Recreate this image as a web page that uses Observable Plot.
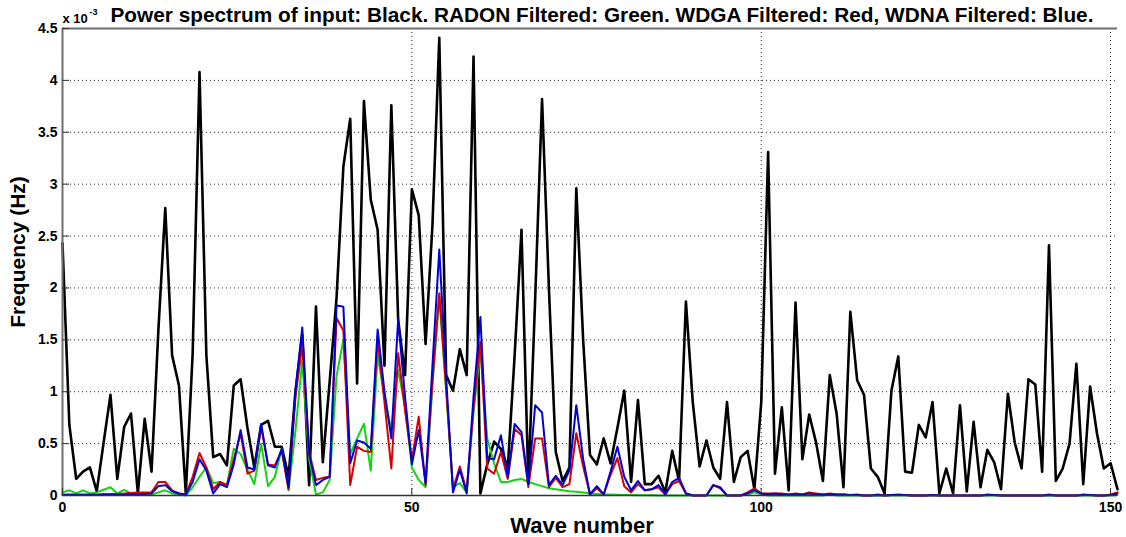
<!DOCTYPE html>
<html>
<head>
<meta charset="utf-8">
<script src="https://cdn.jsdelivr.net/npm/d3@7"></script>
<script src="https://cdn.jsdelivr.net/npm/@observablehq/plot@0.6"></script>
<style>
  html, body { margin: 0; padding: 0; background: #fff; }
  #chart svg { display: block; }
</style>
</head>
<body>
<div id="chart"></div>
<script>
// Wave-number grid: 155 samples spanning 0..151
const waveMax = 151;
const sampleCount = 155;

// Power spectra (x 10^-3), one value per sample
const inputBlack = [
  2.43,0.68,0.16,0.23,0.27,0.04,0.51,0.97,0.16,0.66,
  0.79,0.02,0.74,0.23,1.60,2.77,1.35,1.06,0.02,1.37,
  4.08,1.35,0.37,0.40,0.29,1.06,1.12,0.65,0.27,0.68,
  0.72,0.47,0.47,0.18,1.00,1.55,0.10,1.82,0.32,1.10,
  1.90,3.17,3.63,1.08,3.80,2.85,2.56,1.25,3.76,1.69,
  1.16,2.95,2.70,1.46,2.60,4.41,1.16,1.01,1.41,1.16,
  4.23,0.02,0.30,0.52,0.45,0.27,1.35,2.56,0.12,1.90,
  3.82,2.00,0.42,0.14,0.27,2.96,1.50,0.39,0.30,0.55,
  0.31,0.65,1.01,0.13,0.92,0.11,0.11,0.19,0.03,0.43,
  0.14,1.87,0.90,0.28,0.53,0.27,0.16,0.90,0.13,0.37,
  0.43,0.06,0.90,3.31,0.21,0.85,0.05,1.86,0.35,0.78,
  0.51,0.14,1.16,0.79,0.08,1.77,1.11,0.97,0.26,0.18,
  0.02,1.01,1.34,0.23,0.22,0.68,0.56,0.90,0.02,0.26,
  0.02,0.87,0.04,0.71,0.08,0.44,0.32,0.06,0.98,0.51,
  0.26,1.12,1.07,0.23,2.41,0.14,0.26,0.50,1.27,0.11,
  1.05,0.60,0.26,0.31,0.06
];
const radonGreen = [
  0.03,0.05,0.02,0.05,0.02,0.03,0.055,0.08,0.02,0.055,
  0.02,0.01,0.01,0.01,0.03,0.05,0.02,0.01,0.00,0.08,
  0.18,0.27,0.12,0.13,0.10,0.45,0.40,0.25,0.11,0.50,
  0.09,0.18,0.45,0.05,0.62,1.30,0.35,0.01,0.03,0.15,
  1.15,1.50,0.40,0.55,0.69,0.24,1.35,0.95,0.63,1.21,
  0.85,0.27,0.15,0.08,1.05,1.92,1.00,0.08,0.12,0.03,
  0.80,1.40,0.55,0.31,0.13,0.13,0.15,0.16,0.13,0.11,
  0.09,0.07,0.06,0.05,0.04,0.035,0.03,0.02,0.015,0.01,
  0.01,0.008,0.005,0.004,0.003,0.002,0.002,0.001,0,0,
  0,0,0,0,0,0,0,0,0,0,
  0.01,0.03,0.01,0,0,0,0,0,0,0,
  0,0,0.01,0,0,0,0,0,0,0,
  0,0,0,0,0,0,0,0,0,0,
  0,0,0,0,0,0,0,0,0,0,
  0,0,0,0,0,0,0,0,0,0,
  0,0,0,0,0.005
];
const wdgaRed = [
  0.01,0.01,0.01,0.01,0.01,0.01,0.015,0.015,0.015,0.02,
  0.025,0.03,0.03,0.03,0.13,0.13,0.05,0.02,0.01,0.18,
  0.41,0.27,0.06,0.13,0.10,0.35,0.60,0.21,0.24,0.66,
  0.30,0.29,0.43,0.06,0.95,1.45,0.42,0.15,0.17,0.18,
  1.71,1.59,0.10,0.47,0.43,0.42,1.50,0.90,0.26,1.37,
  0.82,0.34,0.76,0.10,1.10,1.95,1.04,0.06,0.28,0.04,
  0.85,1.48,0.26,0.21,0.42,0.16,0.64,0.58,0.08,0.55,
  0.55,0.08,0.17,0.08,0.11,0.60,0.28,0.01,0.07,0.01,
  0.20,0.36,0.09,0.03,0.11,0.05,0.06,0.08,0.01,0.11,
  0.14,0.02,0.00,0.00,0.00,0.10,0.07,0.00,0.00,0.00,
  0.03,0.07,0.02,0.02,0.02,0.02,0.01,0.02,0.01,0.03,
  0.02,0.01,0.02,0.01,0.01,0.005,0.01,0.00,0.00,0.01,
  0.00,0.005,0.01,0.005,0.00,0.00,0.00,0.005,0.00,0.00,
  0.00,0.00,0.00,0.00,0.00,0.01,0.005,0.00,0.00,0.00,
  0.00,0.00,0.00,0.00,0.01,0.00,0.00,0.00,0.00,0.01,
  0.005,0.00,0.00,0.01,0.03
];
const wdnaBlue = [
  0.005,0.005,0.005,0.005,0.005,0.005,0.005,0.005,0.005,0.005,
  0.01,0.015,0.015,0.02,0.09,0.10,0.04,0.02,0.01,0.13,
  0.35,0.24,0.02,0.11,0.08,0.30,0.63,0.27,0.25,0.69,
  0.29,0.27,0.45,0.08,1.00,1.62,0.40,0.10,0.15,0.18,
  1.83,1.82,0.31,0.53,0.51,0.45,1.60,1.00,0.55,1.70,
  0.95,0.30,0.63,0.12,1.25,2.37,1.14,0.03,0.25,0.02,
  0.95,1.72,0.36,0.35,0.58,0.18,0.69,0.61,0.11,0.87,
  0.80,0.10,0.19,0.10,0.24,0.87,0.35,0.01,0.09,0.01,
  0.23,0.47,0.18,0.05,0.14,0.05,0.06,0.10,0.01,0.13,
  0.17,0.02,0.00,0.00,0.00,0.10,0.08,0.00,0.00,0.00,
  0.02,0.05,0.02,0.01,0.02,0.01,0.01,0.01,0.01,0.02,
  0.01,0.01,0.01,0.01,0.01,0.005,0.005,0.00,0.00,0.005,
  0.00,0.005,0.005,0.005,0.00,0.00,0.00,0.005,0.00,0.00,
  0.00,0.00,0.00,0.00,0.00,0.005,0.005,0.00,0.00,0.00,
  0.00,0.00,0.00,0.00,0.005,0.00,0.00,0.00,0.00,0.005,
  0.005,0.00,0.00,0.005,0.02
];

const xTicks = [0, 50, 100, 150];
const xTickLabels = ["0", "50", "100", "150"];
const yTicks = [0, 0.5, 1, 1.5, 2, 2.5, 3, 3.5, 4, 4.5];
const yTickLabels = ["0", "0.5", "1", "1.5", "2", "2.5", "3", "3.5", "4", "4.5"];

const titleText = "Power spectrum of input: Black. RADON Filtered: Green. WDGA Filtered: Red, WDNA Filtered: Blue.";

const step = waveMax / (sampleCount - 1);
const toRows = arr => arr.map((v, i) => ({x: i * step, y: v}));

const FONT = "'Liberation Sans', Arial, Helvetica, sans-serif";
const gridStyle = {stroke: "#000", strokeWidth: 1, strokeDasharray: "1,3", strokeOpacity: 0.85};

const plot = Plot.plot({
  width: 1126,
  height: 537,
  marginLeft: 62,
  marginRight: 9,
  marginTop: 28,
  marginBottom: 42,
  style: {fontFamily: FONT, fontWeight: "bold", fontSize: "14px", color: "#000", background: "#fff"},
  x: {domain: [0, waveMax]},
  y: {domain: [0, 4.5]},
  marks: [
    Plot.ruleY(yTicks.filter(d => d > 0 && d < 4.5), gridStyle),
    Plot.ruleX(xTicks.filter(d => d > 0), gridStyle),
    Plot.line(toRows(inputBlack), {x: "x", y: "y", stroke: "#000", strokeWidth: 2.6}),
    Plot.line(toRows(radonGreen), {x: "x", y: "y", stroke: "#12d412", strokeWidth: 2}),
    Plot.line(toRows(wdgaRed), {x: "x", y: "y", stroke: "#d80000", strokeWidth: 2}),
    Plot.line(toRows(wdnaBlue), {x: "x", y: "y", stroke: "#0000d8", strokeWidth: 2}),
    Plot.ruleX([0], {stroke: "#6e6e6e", strokeWidth: 2}),
    Plot.ruleY([4.5], {stroke: "#6e6e6e", strokeWidth: 2}),
    Plot.ruleY([0], {stroke: "#333", strokeWidth: 1.5}),
    Plot.axisY({ticks: yTicks, tickFormat: (d, i) => yTickLabels[i], tickSize: -7, tickPadding: 12, fontSize: 14, fontWeight: "bold", label: null, stroke: "#333"}),
    Plot.axisX({ticks: xTicks, tickFormat: (d, i) => xTickLabels[i], tickSize: -7, tickPadding: 14, fontSize: 14, fontWeight: "bold", label: null, stroke: "#333"}),
    Plot.text([titleText], {frameAnchor: "top-left", textAnchor: "start", dx: 48, dy: -13, lineAnchor: "middle", fontSize: 20.8, fontWeight: "bold", fill: "#000"}),
    Plot.text(["x 10"], {frameAnchor: "top-left", textAnchor: "start", dx: 0, dy: -10, lineAnchor: "middle", fontSize: 13, fontWeight: "bold", fill: "#000"}),
    Plot.text(["-3"], {frameAnchor: "top-left", textAnchor: "start", dx: 27, dy: -16, lineAnchor: "middle", fontSize: 9, fontWeight: "bold", fill: "#000"}),
    Plot.text(["Wave number"], {frameAnchor: "bottom", textAnchor: "middle", dx: -8, dy: 30, lineAnchor: "middle", fontSize: 22, fontWeight: "bold", fill: "#000"}),
    Plot.text(["Frequency (Hz)"], {frameAnchor: "left", textAnchor: "middle", dx: -44, dy: -10, rotate: -90, lineAnchor: "middle", fontSize: 21, fontWeight: "bold", fill: "#000"})
  ]
});
document.getElementById("chart").appendChild(plot);
</script>
</body>
</html>
